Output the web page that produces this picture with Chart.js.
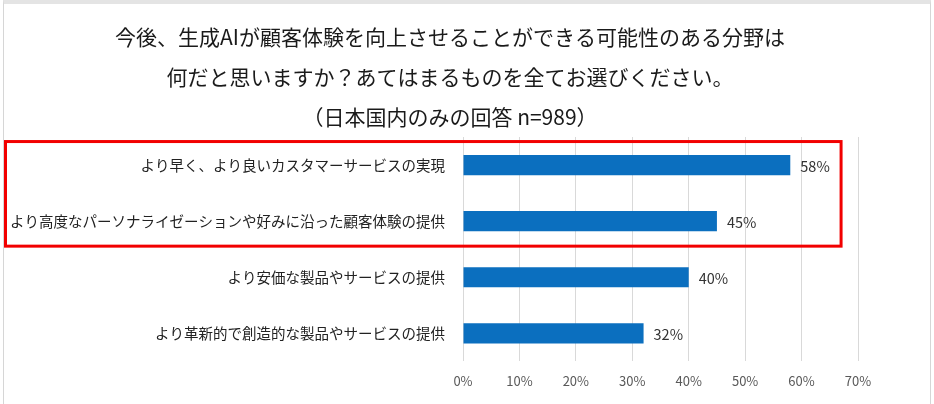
<!DOCTYPE html>
<html lang="ja">
<head>
<meta charset="utf-8">
<script src="https://cdn.jsdelivr.net/npm/chart.js@4"></script>
<style>
    body { margin: 0; background: #fff; }
    .wrap { position: relative; width: 934px; height: 404px; overflow: hidden; }
    .frame {
        position: absolute; left: 3px; top: 0; width: 928px; height: 420px;
        border-top: 4px solid #e4e4e4;
        border-left: 1px solid #d6d6d6;
        border-right: 1px solid #d6d6d6;
        box-sizing: border-box;
    }
    canvas { position: absolute; left: 0; top: 0; }
</style>
</head>
<body>
<div class="wrap">
    <div class="frame"></div>
    <canvas id="genaiChart" width="934" height="404"></canvas>
</div>
<script>
// Survey: areas where generative AI could improve customer experience (Japan only)

const titleLines = [
    '今後、生成AIが顧客体験を向上させることができる可能性のある分野は',
    '何だと思いますか？あてはまるものを全てお選びください。',
    '（日本国内のみの回答 n=989）'
];

const categories = [
    'より早く、より良いカスタマーサービスの実現',
    'より高度なパーソナライゼーションや好みに沿った顧客体験の提供',
    'より安価な製品やサービスの提供',
    'より革新的で創造的な製品やサービスの提供'
];

const shares = [58, 45, 40, 32];

const axisMax = 70;
const axisStep = 10;

// rows framed by the red box
const highlighted = [0, 1];

const FONT = '"Noto Sans CJK JP", "Noto Sans", sans-serif';

const valueLabels = {
    id: 'valueLabels',
    afterDatasetsDraw(chart) {
        const ctx = chart.ctx;
        const meta = chart.getDatasetMeta(0);
        ctx.save();
        ctx.font = '14.5px ' + FONT;
        ctx.fillStyle = '#333333';
        ctx.textAlign = 'left';
        ctx.textBaseline = 'middle';
        meta.data.forEach((bar, i) => {
            ctx.fillText(shares[i] + '%', bar.x + 10, bar.y + 1);
        });
        ctx.restore();
    }
};

const highlightBox = {
    id: 'highlightBox',
    afterDraw(chart) {
        const { ctx, scales } = chart;
        const first = Math.min(...highlighted);
        const last = Math.max(...highlighted);
        const top = scales.y.getPixelForValue(first) - 23.5;
        const bottom = scales.y.getPixelForValue(last) + 25;
        const right = scales.x.getPixelForValue(67);
        ctx.save();
        ctx.strokeStyle = '#f20000';
        ctx.lineWidth = 3;
        ctx.strokeRect(5.5, top, right - 5.5, bottom - top);
        ctx.restore();
    }
};

new Chart(document.getElementById('genaiChart'), {
    type: 'bar',
    data: {
        labels: categories,
        datasets: [{
            data: shares,
            backgroundColor: '#0b6fbf',
            borderWidth: 0,
            categoryPercentage: 1,
            barPercentage: 0.36
        }]
    },
    options: {
        indexAxis: 'y',
        responsive: false,
        animation: false,
        layout: {
            // title is centred on 0..900
            padding: { top: 17, left: 0, right: 34, bottom: 3 }
        },
        plugins: {
            legend: { display: false },
            tooltip: { enabled: false },
            title: {
                display: true,
                text: titleLines,
                color: '#1a1a1a',
                padding: { top: 0, bottom: 0 },
                font: {
                    family: FONT,
                    size: 21,
                    weight: 'normal',
                    lineHeight: '40px'
                }
            }
        },
        scales: {
            x: {
                min: 0,
                max: axisMax,
                afterFit(scale) {
                    // keep the 70% line at x=858
                    scale.paddingRight = 76;
                },
                ticks: {
                    stepSize: axisStep,
                    padding: 12,
                    color: '#595959',
                    font: { family: FONT, size: 13 },
                    callback: v => v + '%'
                },
                grid: {
                    color: '#d9d9d9',
                    drawTicks: false
                },
                border: { display: false }
            },
            y: {
                afterFit(scale) {
                    scale.width = 463;
                },
                ticks: {
                    padding: 18,
                    color: '#222222',
                    font: { family: FONT, size: 14.5 }
                },
                grid: {
                    display: false,
                    drawTicks: false
                },
                border: { display: false }
            }
        }
    },
    plugins: [valueLabels, highlightBox]
});
</script>
</body>
</html>
